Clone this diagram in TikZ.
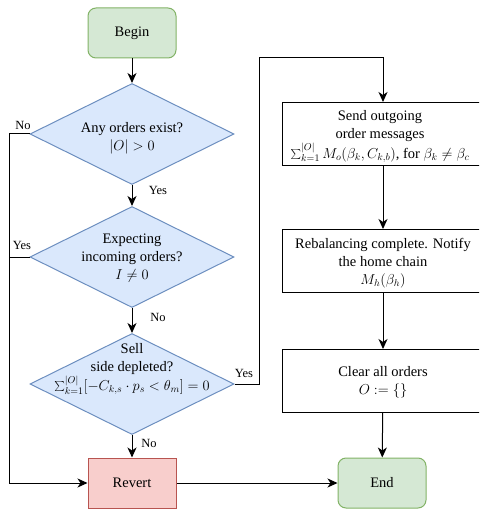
\documentclass[tikz,border=0pt]{standalone}
\usepackage{fontspec}
\setmainfont{Liberation Serif}
\usetikzlibrary{shapes.geometric,arrows.meta}
\definecolor{termfill}{HTML}{D5E8D4}
\definecolor{termline}{HTML}{82B366}
\definecolor{decfill}{HTML}{DAE8FC}
\definecolor{decline}{HTML}{6C8EBF}
\definecolor{failfill}{HTML}{F8CECC}
\definecolor{failline}{HTML}{B85450}
\begin{document}
\begin{tikzpicture}[x=1pt,y=-1pt,
  base/.style={font=\fontsize{14.5}{18}\selectfont, align=center, inner sep=0pt, line width=1pt},
  term/.style={base, rounded corners=8pt, minimum width=88pt, minimum height=50pt, fill=termfill, draw=termline},
  fail/.style={base, minimum width=88pt, minimum height=50pt, fill=failfill, draw=failline},
  dec/.style={base, diamond, minimum width=204pt, minimum height=101pt, fill=decfill, draw=decline},
  txt/.style={base},
  proc/.style={base, minimum width=202pt, minimum height=63pt, draw=black},
  lab/.style={font=\fontsize{12.5}{15}\selectfont, inner sep=0pt},
  arr/.style={line width=1pt, -{Stealth[length=10pt,width=9pt,inset=3pt]}},
  ln/.style={line width=1pt}
]
\clip (0,0) rectangle (479,510);

% left column: tests
\node[term] (begin) at (132,33) {Begin};
\node[dec] (d1) at (132,134) {};
\node[txt] (t1) at (132,138) {Any orders exist?\\\(|O|>0\)};
\node[dec] (d2) at (132,257) {};
\node[txt] (t2) at (132,258) {Expecting\\incoming orders?\\\(I\neq 0\)};
\node[dec] (d3) at (132,384) {};
\node[txt] (t3) at (132,369) {Sell\\side depleted?\\\(\sum_{k=1}^{|O|}[-C_{k,s}\cdot p_s<\theta_m]=0\)};
\node[fail] (revert) at (132,483) {Revert};

% right column: rebalancing steps
\node[proc] (send) at (383,134) {};
\node[txt] (tsend) at (380,136.5) {Send outgoing\\order messages\\\(\sum_{k=1}^{|O|}M_o(\beta_k,C_{k,b})\), for \(\beta_k\neq\beta_c\)};
\node[proc] (notify) at (383,261) {};
\node[txt] (tnotify) at (383,263) {Rebalancing complete. Notify\\the home chain\\\(M_h(\beta_h)\)};
\node[proc] (clear) at (383,381) {};
\node[txt] (tclear) at (383,382.5) {Clear all orders\\\(O:=\{\}\)};
\node[term] (end) at (382,483) {End};

% routing points
\coordinate (lrail) at (9,134);
\coordinate (rrail) at (259,58);

% connectors
\draw[arr] (begin) -- (d1);
\draw[arr] (d1) -- (d2);
\draw[arr] (d2) -- (d3);
\draw[arr] (d3) -- (revert);
\draw[arr] (d1.west) -- (lrail) |- (revert.west);
\draw[ln] (d2.west) -- (d2.west -| lrail);
\draw[arr] (d3.east) -| (rrail) -| (send.north);
\draw[arr] (send) -- (notify);
\draw[arr] (notify) -- (clear);
\draw[arr] (clear) -- (end);
\draw[arr] (revert) -- (end);

% branch labels
\node[lab] (l1) at (23,125) {No};
\node[lab] (l2) at (158,190) {Yes};
\node[lab] (l3) at (22,245) {Yes};
\node[lab] (l4) at (158,317) {No};
\node[lab] (l5) at (149,443) {No};
\node[lab] (l6) at (244,373) {Yes};
\end{tikzpicture}
\end{document}
